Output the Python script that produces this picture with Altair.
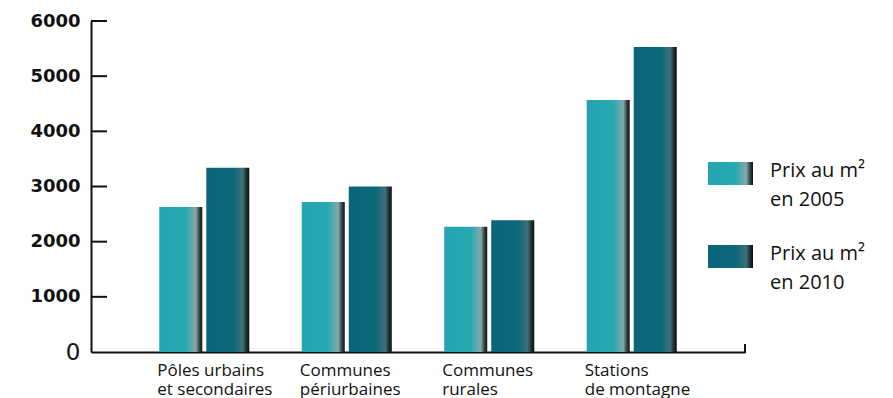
import altair as alt
import pandas as pd

categories = ["Pôles urbains|et secondaires", "Communes|périurbaines", "Communes|rurales", "Stations|de montagne"]
years = ["2005", "2010"]
prix_2005 = [2630, 2720, 2270, 4570]
prix_2010 = [3340, 3000, 2390, 5530]
y_ticks = [0, 1000, 2000, 3000, 4000, 5000, 6000]
legend_labels = ["Prix au m²|en 2005", "Prix au m²|en 2010"]

rows = []
for c, a, b in zip(categories, prix_2005, prix_2010):
    rows.append({"cat": c, "year": years[0], "prix": a})
    rows.append({"cat": c, "year": years[1], "prix": b})
df = pd.DataFrame(rows)
ticks_df = pd.DataFrame({"prix": y_ticks[1:]})

W, H = 654, 331
INK = "#111111"


def grad(stops):
    return alt.LinearGradient(
        gradient="linear", x1=0, x2=1, y1=0, y2=0,
        stops=[alt.GradientStop(color=c, offset=o) for o, c in stops],
    )


grad05 = grad([(0, "#22a5af"), (0.62, "#28a9b2"), (0.85, "#86a8a9"), (0.93, "#34474a"), (1, "#111111")])
grad10 = grad([(0, "#0a6578"), (0.62, "#0c687b"), (0.85, "#3e6f77"), (0.93, "#1d3136"), (1, "#0b0b0b")])

y_axis = alt.Axis(
    title=None, values=y_ticks, format="d", grid=False, ticks=False, tickSize=0,
    labelPadding=11, domainColor=INK, domainWidth=2, labelColor=INK,
    labelFont="DejaVu Sans",
    labelFontSize={"condition": {"test": "datum.value == 0", "value": 23}, "value": 18},
    labelFontWeight={"condition": {"test": "datum.value == 0", "value": "normal"}, "value": "bold"},
)
y_enc = alt.Y("prix:Q", scale=alt.Scale(domain=[0, 6000], nice=False, zero=True), axis=y_axis)

x_axis = alt.Axis(
    title=None, labelExpr="split(datum.label, '|')", labelAlign="left", labelOffset=-47,
    labelBaseline="top", labelPadding=10, ticks=False, tickSize=0,
    domainColor=INK, domainWidth=2, labelFont="Open Sans", labelFontSize=17,
    labelColor=INK, labelLineHeight=19, labelOverlap=False, labelBound=False, labelAngle=0,
)
x_enc = alt.X("cat:N", sort=categories, scale=alt.Scale(paddingInner=0.368, paddingOuter=0.479), axis=x_axis)
xo_enc = alt.XOffset("year:N", sort=years, scale=alt.Scale(paddingInner=0.085, paddingOuter=0))

base = alt.Chart(df).encode(x=x_enc, y=y_enc, xOffset=xo_enc)
bars05 = base.transform_filter(alt.datum.year == years[0]).mark_bar(color=grad05)
bars10 = base.transform_filter(alt.datum.year == years[1]).mark_bar(color=grad10)

tick_rules = alt.Chart(ticks_df).mark_rule(color=INK, strokeWidth=2).encode(
    y=y_enc, x=alt.value(0), x2=alt.value(16)
)

one = pd.DataFrame({"k": [0]})
end_tick = alt.Chart(one).mark_rule(color=INK, strokeWidth=2).encode(
    x=alt.value(W), y=alt.value(H - 8), y2=alt.value(H + 1)
)

legend_layers = []
for i, (lab, g) in enumerate(zip(legend_labels, [grad05, grad10])):
    top = 141 + i * 83
    sw = alt.Chart(one).mark_rect(color=g).encode(
        x=alt.value(617), x2=alt.value(662), y=alt.value(top), y2=alt.value(top + 23)
    )
    tx = alt.Chart(pd.DataFrame({"label": [lab]})).mark_text(
        align="left", baseline="alphabetic", font="Open Sans", fontSize=20,
        color=INK, lineBreak="|", lineHeight=29,
    ).encode(x=alt.value(679), y=alt.value(top + 15), text="label:N")
    legend_layers += [sw, tx]

chart = alt.layer(bars05, bars10, tick_rules, end_tick, *legend_layers).properties(
    width=W, height=H,
    autosize=alt.AutoSizeParams(type="none"),
    padding={"left": 91, "top": 21, "right": 148, "bottom": 46},
    background="white",
).configure_view(stroke=None)

chart.save("out.html", embed_options={"renderer": "svg", "actions": False})
